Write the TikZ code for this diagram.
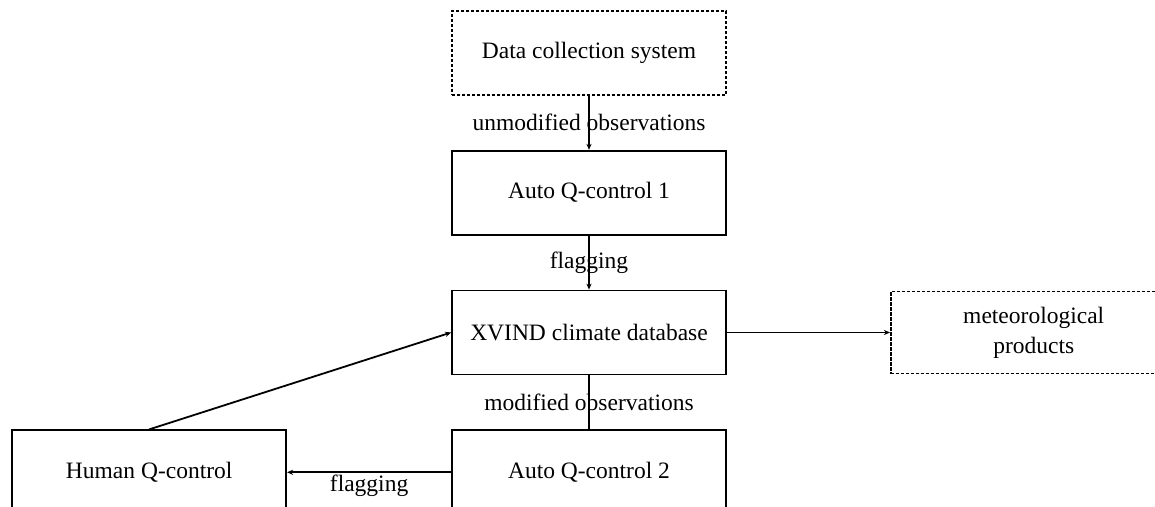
\documentclass[tikz,border=0pt]{standalone}
\usepackage{fontspec}
\setmainfont{Liberation Serif}
\usepackage{tikz}
\usetikzlibrary{positioning, arrows.meta}

\begin{document}
\begin{tikzpicture}[node distance = 27pt, font=\fontsize{11.75pt}{15pt}\selectfont]
 \tikzstyle{box}  = [draw, line width=0.9pt, rectangle, minimum height=42pt, minimum width=137pt]
 \tikzstyle{dbox} = [draw, line width=0.8pt, dash pattern=on 1.6pt off 0.9pt, rectangle, minimum height=42pt, minimum width=137pt]
 \tikzstyle{link} = [line width=0.9pt, -{Stealth[length=3pt, width=2.6pt]}]
 \tikzstyle{lab}  = [inner sep=1pt]

 \useasboundingbox (0,0) rectangle (577.5pt,-253.5pt);

 \node [dbox] at (294.5pt,-26.5pt) (dcs) {Data collection system};
 \node [box,  below = of dcs]  (aq1) {Auto Q-control 1};
 \node [box,  below = of aq1]  (db)  {XVIND climate database};
 \node [box,  below = of db]   (aq2) {Auto Q-control 2};
 \node [box,  left  = 82pt of aq2] (hq) {Human Q-control};
 \node [dbox, right = 81.5pt of db, minimum width=143pt, minimum height=41pt, align=center] (mp) {meteorological\\products};

 \draw [link] (dcs) -- node [lab] {unmodified observations} (aq1);
 \draw [link] (aq1) -- node [lab] {flagging} (db);
 \draw [line width=0.9pt] (db) -- node [lab] {modified observations} (aq2);
 \draw [link] (db) -- (mp);
 \draw [link] (hq.north) -- (db.west);
 \draw [link] (aq2) -- node [lab, below] {flagging} (hq);
\end{tikzpicture}
\end{document}
